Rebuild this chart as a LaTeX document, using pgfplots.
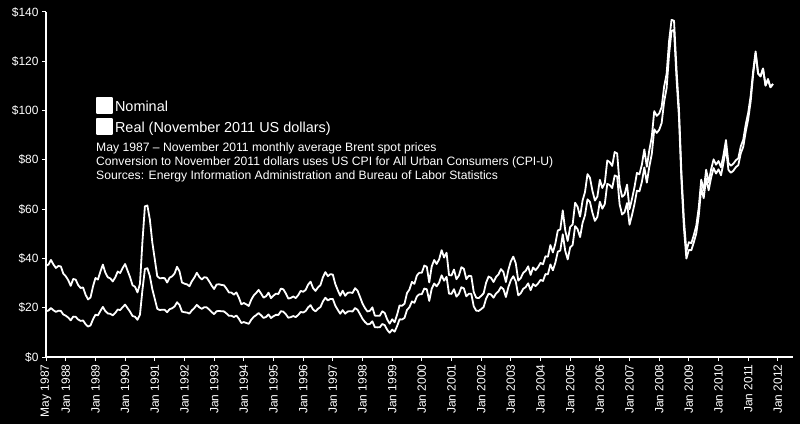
\documentclass[border=0pt]{standalone}
\usepackage{fontspec}
\setmainfont{Liberation Sans}
\usepackage{pgfplots}
\usepackage{pgfplotstable}
\pgfplotsset{compat=1.18}

% Brent spot price, monthly average: Y M nominal real(Nov 2011 $)
\pgfplotstableread{
Y M N R
1987 5 18.58 37.03
1987 6 18.86 37.49
1987 7 19.86 39.40
1987 8 18.98 37.56
1987 9 18.31 36.14
1987 10 18.76 36.94
1987 11 18.70 36.75
1987 12 17.27 33.85
1988 1 16.75 32.75
1988 2 16.00 31.17
1988 3 14.88 28.87
1988 4 16.38 31.66
1988 5 16.31 31.41
1988 6 15.21 29.19
1988 7 14.65 28.01
1988 8 14.81 28.20
1988 9 13.33 25.29
1988 10 12.36 23.36
1988 11 12.82 24.14
1988 12 15.25 28.59
1989 1 17.17 32.07
1989 2 16.89 31.42
1989 3 18.70 34.65
1989 4 20.32 37.49
1989 5 18.63 34.22
1989 6 17.67 32.34
1989 7 17.51 31.90
1989 8 16.91 30.67
1989 9 17.86 32.27
1989 10 19.27 34.67
1989 11 19.04 34.10
1989 12 20.23 36.09
1990 1 21.25 37.74
1990 2 19.81 35.02
1990 3 18.39 32.37
1990 4 16.61 29.10
1990 5 16.35 28.51
1990 6 15.10 26.21
1990 7 17.17 29.67
1990 8 27.17 46.76
1990 9 35.69 61.14
1990 10 36.06 61.48
1990 11 32.88 55.80
1990 12 27.53 46.50
1991 1 23.57 39.62
1991 2 19.54 32.77
1991 3 19.08 31.94
1991 4 19.18 32.03
1991 5 19.19 31.99
1991 6 18.17 30.22
1991 7 19.40 32.20
1991 8 19.77 32.74
1991 9 20.50 33.87
1991 10 22.21 36.62
1991 11 21.11 34.73
1991 12 18.41 30.23
1992 1 18.16 29.75
1992 2 18.05 29.49
1992 3 17.63 28.72
1992 4 18.92 30.75
1992 5 19.89 32.24
1992 6 21.16 34.19
1992 7 20.18 32.53
1992 8 19.56 31.45
1992 9 20.20 32.38
1992 10 20.14 32.20
1992 11 19.26 30.72
1992 12 18.23 28.99
1993 1 17.40 27.60
1993 2 18.57 29.40
1993 3 18.69 29.51
1993 4 18.56 29.25
1993 5 18.50 29.10
1993 6 17.66 27.73
1993 7 16.72 26.18
1993 8 16.73 26.15
1993 9 16.23 25.32
1993 10 16.83 26.20
1993 11 15.52 24.10
1993 12 13.81 21.41
1994 1 14.17 21.92
1994 2 13.84 21.37
1994 3 13.45 20.71
1994 4 15.11 23.22
1994 5 16.28 24.96
1994 6 16.97 25.96
1994 7 17.86 27.25
1994 8 16.91 25.75
1994 9 15.86 24.09
1994 10 16.25 24.64
1994 11 17.27 26.11
1994 12 15.82 23.87
1995 1 16.55 24.91
1995 2 17.11 25.70
1995 3 17.07 25.57
1995 4 18.57 27.76
1995 5 18.40 27.45
1995 6 17.34 25.80
1995 7 15.95 23.69
1995 8 16.17 23.96
1995 9 16.61 24.55
1995 10 16.20 23.90
1995 11 17.05 25.10
1995 12 18.27 26.82
1996 1 18.07 26.47
1996 2 18.61 27.19
1996 3 20.14 29.36
1996 4 21.03 30.58
1996 5 19.29 27.99
1996 6 18.53 26.81
1996 7 19.58 28.27
1996 8 20.26 29.17
1996 9 22.55 32.38
1996 10 24.04 34.45
1996 11 22.95 32.80
1996 12 23.56 33.60
1997 1 23.54 33.47
1997 2 20.85 29.61
1997 3 19.13 27.13
1997 4 17.56 24.88
1997 5 19.02 26.91
1997 6 17.58 24.84
1997 7 18.46 26.05
1997 8 18.60 26.21
1997 9 18.46 25.97
1997 10 19.87 27.94
1997 11 19.18 26.93
1997 12 17.40 24.39
1998 1 15.50 21.70
1998 2 14.22 19.88
1998 3 13.24 18.48
1998 4 13.44 18.74
1998 5 14.48 20.16
1998 6 12.09 16.81
1998 7 12.03 16.70
1998 8 12.05 16.71
1998 9 13.38 18.53
1998 10 12.92 17.87
1998 11 11.02 15.22
1998 12 9.82 13.54
1999 1 11.11 15.30
1999 2 10.27 14.11
1999 3 12.51 17.15
1999 4 15.29 20.92
1999 5 15.23 20.79
1999 6 15.86 21.60
1999 7 19.08 25.93
1999 8 20.22 27.40
1999 9 22.54 30.47
1999 10 22.00 29.68
1999 11 24.58 33.09
1999 12 25.47 34.21
2000 1 25.51 34.18
2000 2 27.78 37.11
2000 3 27.49 36.62
2000 4 22.76 30.23
2000 5 27.74 36.73
2000 6 29.80 39.34
2000 7 28.68 37.74
2000 8 30.20 39.62
2000 9 33.14 43.35
2000 10 30.96 40.37
2000 11 32.55 42.32
2000 12 25.66 33.26
2001 1 25.62 33.10
2001 2 27.50 35.50
2001 3 24.50 31.58
2001 4 25.66 33.05
2001 5 28.31 36.43
2001 6 27.85 35.82
2001 7 24.61 31.60
2001 8 25.68 32.95
2001 9 25.62 32.84
2001 10 20.54 26.31
2001 11 18.80 24.05
2001 12 18.71 23.91
2002 1 19.42 24.80
2002 2 20.28 25.84
2002 3 23.70 30.15
2002 4 25.73 32.65
2002 5 25.35 32.09
2002 6 24.08 30.44
2002 7 25.74 32.46
2002 8 26.65 33.53
2002 9 28.40 35.67
2002 10 27.54 34.51
2002 11 24.34 30.43
2002 12 28.33 35.36
2003 1 31.18 38.82
2003 2 32.77 40.73
2003 3 30.61 37.99
2003 4 25.00 30.98
2003 5 25.86 31.99
2003 6 27.65 34.15
2003 7 28.35 34.96
2003 8 29.89 36.79
2003 9 27.11 33.32
2003 10 29.61 36.33
2003 11 28.75 35.22
2003 12 29.81 36.46
2004 1 31.28 38.19
2004 2 30.86 37.59
2004 3 33.63 40.86
2004 4 33.59 40.71
2004 5 37.57 45.42
2004 6 35.18 42.43
2004 7 38.22 45.98
2004 8 42.74 51.33
2004 9 43.20 51.75
2004 10 49.78 59.49
2004 11 43.11 51.39
2004 12 39.60 47.08
2005 1 44.51 52.79
2005 2 45.48 53.76
2005 3 53.10 62.60
2005 4 51.88 60.96
2005 5 48.65 56.97
2005 6 54.35 63.43
2005 7 57.52 66.95
2005 8 63.98 74.22
2005 9 62.91 72.72
2005 10 58.54 67.44
2005 11 55.24 63.47
2005 12 56.86 65.10
2006 1 62.99 71.87
2006 2 60.21 68.58
2006 3 62.06 70.56
2006 4 70.26 79.75
2006 5 69.78 79.06
2006 6 68.56 77.54
2006 7 73.67 83.17
2006 8 73.23 82.60
2006 9 61.96 69.77
2006 10 57.81 64.98
2006 11 58.76 65.93
2006 12 62.47 69.97
2007 1 53.68 60.01
2007 2 57.56 64.12
2007 3 62.05 68.88
2007 4 67.49 74.71
2007 5 67.21 74.13
2007 6 71.05 78.08
2007 7 76.93 84.24
2007 8 70.76 77.20
2007 9 77.17 83.88
2007 10 82.34 89.26
2007 11 92.41 99.80
2007 12 90.93 97.84
2008 1 92.18 98.82
2008 2 94.99 101.45
2008 3 103.64 109.75
2008 4 109.07 114.85
2008 5 122.80 128.20
2008 6 132.32 136.82
2008 7 132.72 136.44
2008 8 113.24 116.86
2008 9 97.23 100.54
2008 10 71.58 74.73
2008 11 52.45 55.86
2008 12 39.95 42.99
2009 1 43.44 46.57
2009 2 43.32 46.18
2009 3 46.54 49.47
2009 4 50.18 53.24
2009 5 57.30 60.62
2009 6 68.61 71.97
2009 7 64.44 67.66
2009 8 72.51 75.99
2009 9 67.65 70.83
2009 10 72.77 76.12
2009 11 76.66 80.19
2009 12 74.46 78.03
2010 1 76.17 79.52
2010 2 73.75 77.00
2010 3 78.83 81.98
2010 4 84.82 88.04
2010 5 75.95 78.76
2010 6 74.76 77.60
2010 7 75.58 78.45
2010 8 77.04 79.81
2010 9 77.84 80.64
2010 10 82.67 85.48
2010 11 85.28 88.18
2010 12 91.45 94.38
2011 1 96.52 99.13
2011 2 103.72 106.00
2011 3 114.64 116.02
2011 4 123.26 124.00
2011 5 114.99 115.10
2011 6 113.83 114.06
2011 7 116.97 117.09
2011 8 110.22 110.11
2011 9 112.83 112.49
2011 10 109.55 109.44
2011 11 110.77 110.77
}\brent

\begin{document}
\begin{tikzpicture}
\fill[black] (0,0) rectangle (800bp,424bp);
\useasboundingbox (0,0) rectangle (800bp,424bp);
\begin{axis}[
    at={(46bp,67bp)}, anchor=south west,
    scale only axis,
    width=747bp, height=345bp,
    xmin=1987.3333, xmax=2012.51,
    ymin=0, ymax=140,
    axis lines*=left,
    axis line style={white, line width=1.2bp},
    tick style={white, line width=1bp},
    tick align=outside,
    major tick length=4bp,
    ytick={0,20,...,140},
    yticklabel={\$\pgfmathprintnumber{\tick}},
    xtick={1987.3333,1988,1989,1990,1991,1992,1993,1994,1995,1996,1997,1998,1999,2000,2001,2002,2003,2004,2005,2006,2007,2008,2009,2010,2011,2012},
    xticklabels={May 1987,Jan 1988,Jan 1989,Jan 1990,Jan 1991,Jan 1992,Jan 1993,Jan 1994,Jan 1995,Jan 1996,Jan 1997,Jan 1998,Jan 1999,Jan 2000,Jan 2001,Jan 2002,Jan 2003,Jan 2004,Jan 2005,Jan 2006,Jan 2007,Jan 2008,Jan 2009,Jan 2010,Jan 2011,Jan 2012},
    /pgf/number format/assume math mode=true,
    yticklabel style={text=white, font=\fontsize{12}{14}\selectfont},
    xticklabel style={text=white, font=\fontsize{12}{14}\selectfont, rotate=90, anchor=east},
    legend style={at={(0.067,0.754)}, anchor=north west, draw=none, fill=none,
        text=white, font=\fontsize{14.5}{16}\selectfont, inner sep=0pt, row sep=3bp,
        /tikz/every even column/.append style={column sep=5bp}},
    legend cell align=left,
    legend image code/.code={\fill[white] (0bp,-6bp) rectangle (15bp,9bp);},
]
\addplot[white, line width=1.8bp, line join=round, mark=none]
    table[x expr=\thisrow{Y}+(\thisrow{M}-1)/12, y=N] {\brent};
\addlegendentry{Nominal}
\addplot[white, line width=1.8bp, line join=round, mark=none]
    table[x expr=\thisrow{Y}+(\thisrow{M}-1)/12, y=R] {\brent};
\addlegendentry{Real (November 2011 US dollars)}
\end{axis}
\begin{scope}[every node/.style={anchor=base west, text=white, inner sep=0pt, font=\fontsize{12.2}{14}\selectfont}]
\node at (96bp,272.3bp) {May 1987 -- November 2011 monthly average Brent spot prices};
\node at (96bp,258.3bp) {Conversion to November 2011 dollars uses US CPI for All Urban Consumers (CPI-U)};
\node at (96bp,244bp) {Sources: Energy Information Administration and Bureau of Labor Statistics};
\end{scope}
\end{tikzpicture}
\end{document}
